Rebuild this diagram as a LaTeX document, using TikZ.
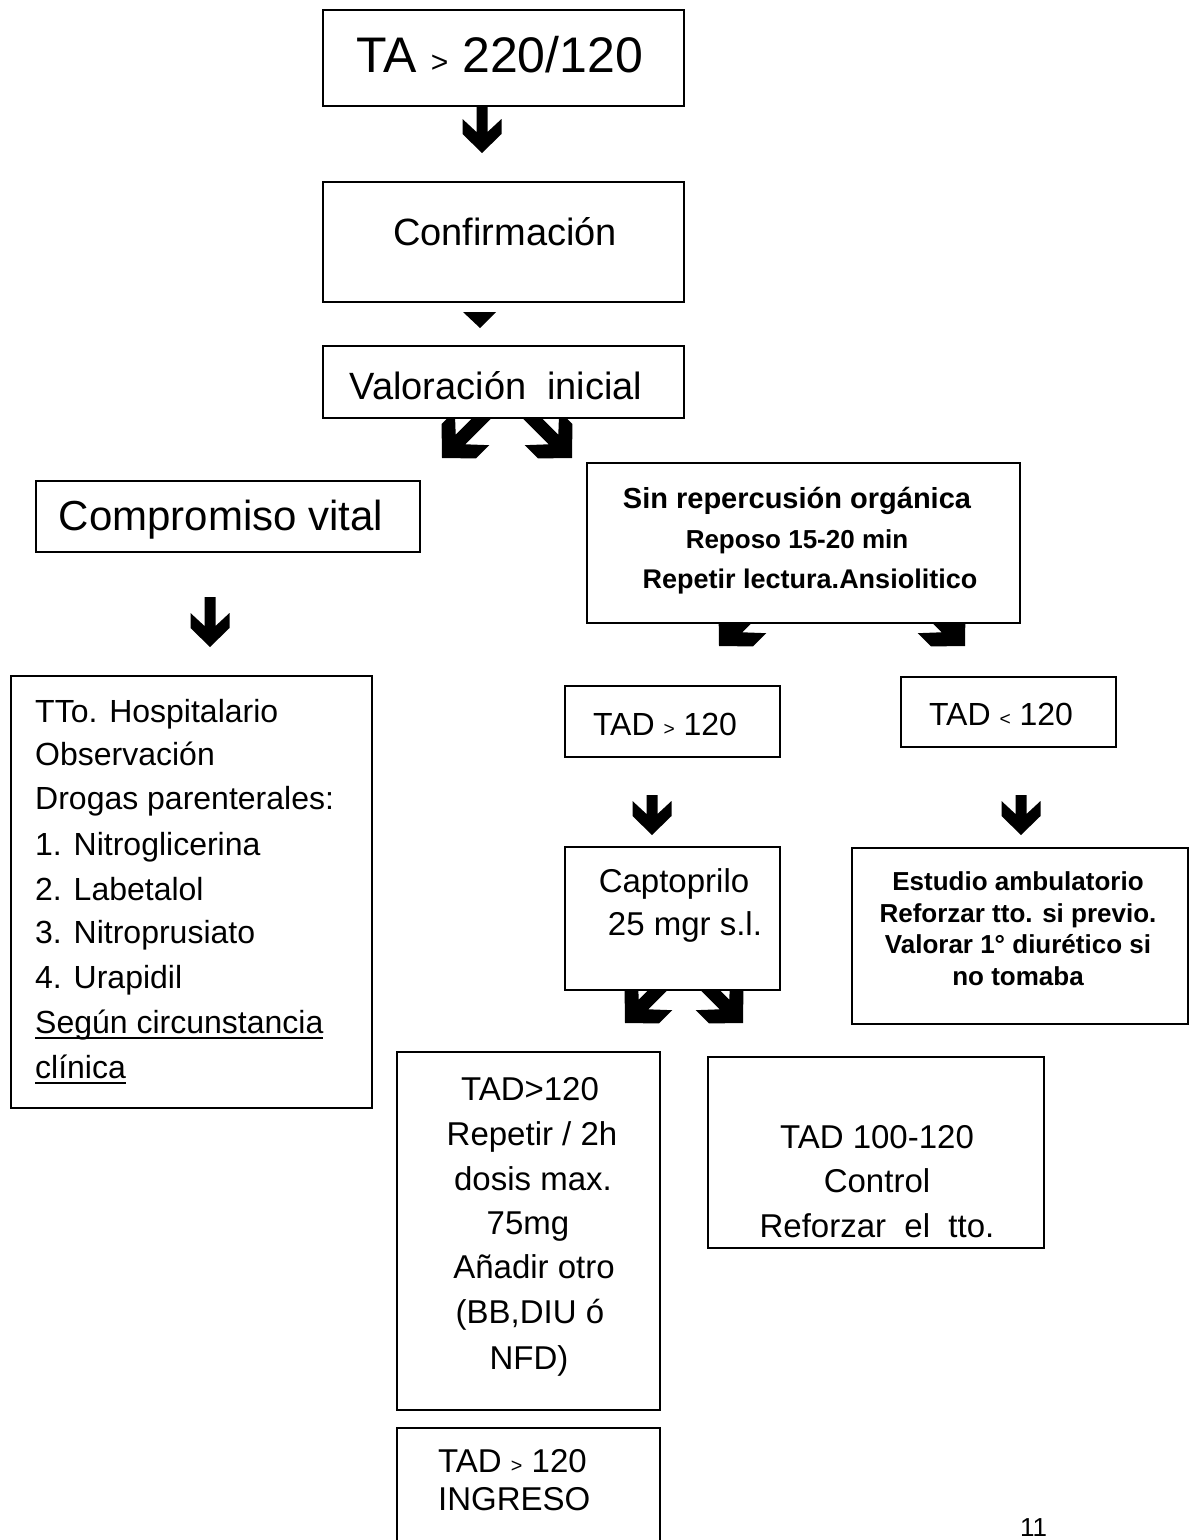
\documentclass[tikz,border=0pt]{standalone}
\usepackage{fontspec}
\setmainfont{Liberation Sans}
\usepackage{graphicx}
\newcommand\sgt{\scalebox{0.6}{>}}
\newcommand\slt{\scalebox{0.6}{<}}
\newcommand\fs[1]{\fontsize{#1}{#1}\selectfont}
\newcommand\myul[1]{\setbox0\hbox{#1}\rlap{\rule[-6pt]{\wd0}{2pt}}\box0}
\tikzset{
  pics/barrow/.style={code={
    \fill (-5.5,-#1) -- (-5.5,-21) -- (-19.5,-34) -- (-19.5,-19) -- (0,0)
      -- (19.5,-19) -- (19.5,-34) -- (5.5,-21) -- (5.5,-#1) -- cycle;}},
  box/.style={draw, fill=white, line width=1.6pt, inner sep=0pt, outer sep=0pt},
  txt/.style={inner sep=0pt, anchor=base},
  txtl/.style={inner sep=0pt, anchor=base west}
}
\begin{document}
\begin{tikzpicture}[x=1pt,y=-1pt]
\clip (0,0) rectangle (1194,1540);
\fill[white] (0,0) rectangle (1194,1540);
% block arrows
\pic at (482,153) {barrow=47};
\fill (463,312) -- (496,312) -- (480,328) -- cycle;
\pic[rotate=-45,scale=1.25] at (442,458) {barrow=50};
\pic[rotate=45,scale=1.25] at (572,458) {barrow=50};
\pic at (210,647) {barrow=50};
\pic[rotate=-45,scale=1.25] at (719,646) {barrow=50};
\pic[rotate=45,scale=1.25] at (965,646) {barrow=50};
\pic at (652,835) {barrow=40};
\pic at (1021,835) {barrow=40};
\pic[rotate=-45,scale=1.25] at (625,1023) {barrow=50};
\pic[rotate=45,scale=1.25] at (743,1023) {barrow=50};
% boxes
\node[box, minimum width=361pt, minimum height=96pt] (b1) at (503.5,58) {};
\node[box, minimum width=361pt, minimum height=120pt] (b2) at (503.5,242) {};
\node[box, minimum width=361pt, minimum height=72pt] (b3) at (503.5,382) {};
\node[box, minimum width=384pt, minimum height=71pt] (b4) at (228,516.5) {};
\node[box, minimum width=433pt, minimum height=160pt] (b5) at (803.5,543) {};
\node[box, minimum width=361pt, minimum height=432pt] (b6) at (191.5,892) {};
\node[box, minimum width=215pt, minimum height=71pt] (b7) at (672.5,721.5) {};
\node[box, minimum width=215pt, minimum height=70pt] (b8) at (1008.5,712) {};
\node[box, minimum width=215pt, minimum height=143pt] (b9) at (672.5,918.5) {};
\node[box, minimum width=336pt, minimum height=176pt] (b10) at (1020,936) {};
\node[box, minimum width=263pt, minimum height=358pt] (b11) at (528.5,1231) {};
\node[box, minimum width=336pt, minimum height=191pt] (b12) at (876,1152.5) {};
\node[box, minimum width=263pt, minimum height=142pt] (b13) at (528.5,1499) {};
% texts
\node[txt, font=\fs{50}] (t1) at (500,72) {TA \sgt{} 220/120};
\node[txt, font=\fs{38}] (t2) at (505,245) {Confirmación};
\node[txt, font=\fs{38}] (t3) at (496,399) {Valoración\ \ inicial};
\node[txt, font=\fs{42}] (t4) at (221,530) {Compromiso vital};
\node[txt, font=\bfseries\fs{29}] (t5a) at (797,508) {Sin repercusión orgánica};
\node[txt, font=\bfseries\fs{26}] (t5b) at (797,548) {Reposo 15-20 min};
\node[txt, font=\bfseries\fs{27}] (t5c) at (810,588) {Repetir lectura.Ansiolitico};
\node[txtl, font=\fs{32}] (t6a) at (35,722) {TTo. Hospitalario};
\node[txtl, font=\fs{32}] (t6b) at (35,765) {Observación};
\node[txtl, font=\fs{32}] (t6c) at (35,809) {Drogas parenterales:};
\node[txtl, font=\fs{32}] (t6d) at (35,855) {1. Nitroglicerina};
\node[txtl, font=\fs{32}] (t6e) at (35,900) {2. Labetalol};
\node[txtl, font=\fs{32}] (t6f) at (35,943) {3. Nitroprusiato};
\node[txtl, font=\fs{32}] (t6g) at (35,988) {4. Urapidil};
\node[txtl, font=\fs{32}] (t6h) at (35,1033) {\myul{Según circunstancia}};
\node[txtl, font=\fs{32}] (t6i) at (35,1078) {\myul{clínica}};
\node[txt, font=\fs{32}] (t7) at (665,735) {TAD \sgt{} 120};
\node[txt, font=\fs{32}] (t8) at (1001,725) {TAD \slt{} 120};
\node[txt, font=\fs{33}] (t9a) at (674,892) {Captoprilo};
\node[txt, font=\fs{33}] (t9b) at (685,935) {25 mgr s.l.};
\node[txt, font=\bfseries\fs{26}] (t10a) at (1018,890) {Estudio ambulatorio};
\node[txt, font=\bfseries\fs{26}] (t10b) at (1018,922) {Reforzar tto. si previo.};
\node[txt, font=\bfseries\fs{26}] (t10c) at (1018,953) {Valorar 1° diurético si};
\node[txt, font=\bfseries\fs{26}] (t10d) at (1018,985) {no tomaba};
\node[txt, font=\fs{33}] (t11a) at (530,1100) {TAD>120};
\node[txt, font=\fs{33}] (t11b) at (532,1145) {Repetir / 2h};
\node[txt, font=\fs{33}] (t11c) at (533,1190) {dosis max.};
\node[txt, font=\fs{33}] (t11d) at (528,1234) {75mg};
\node[txt, font=\fs{33}] (t11e) at (534,1278) {Añadir otro};
\node[txt, font=\fs{33}] (t11f) at (530,1323) {(BB,DIU ó};
\node[txt, font=\fs{33}] (t11g) at (529,1369) {NFD)};
\node[txt, font=\fs{33}] (t12a) at (877,1148) {TAD 100-120};
\node[txt, font=\fs{33}] (t12b) at (877,1192) {Control};
\node[txt, font=\fs{33}] (t12c) at (877,1237) {Reforzar\ \ el\ \ tto.};
\node[txtl, font=\fs{33}] (t13a) at (438,1472) {TAD \sgt{} 120};
\node[txtl, font=\fs{33}] (t13b) at (438,1510) {INGRESO};
\node[txtl, font=\fs{26}] (pg) at (1020,1536) {11};
\end{tikzpicture}
\end{document}
